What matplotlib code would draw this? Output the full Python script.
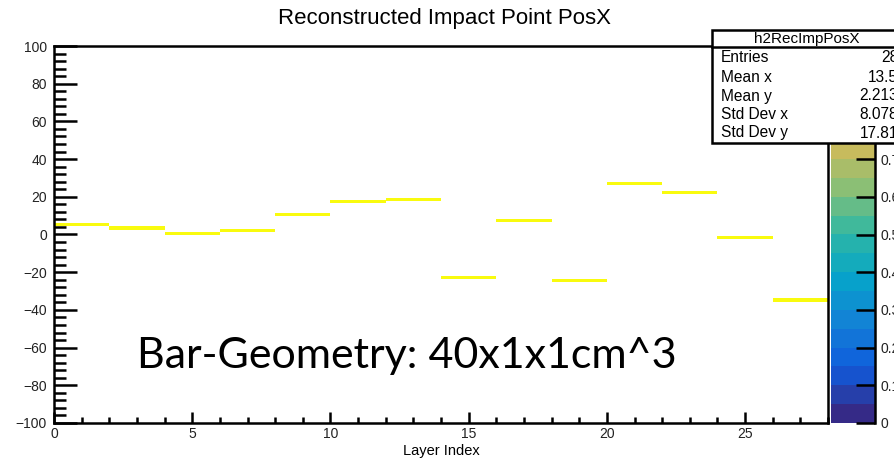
import matplotlib
matplotlib.use("Agg")
import matplotlib.pyplot as plt
import numpy as np
from matplotlib.colors import LinearSegmentedColormap, BoundaryNorm
from matplotlib.patches import Rectangle
from matplotlib.lines import Line2D
from matplotlib.cm import ScalarMappable

# ---------------- data ----------------
layer_bin_low = [0, 2, 4, 6, 8, 10, 12, 14, 16, 18, 20, 22, 24, 26]
layer_bin_width = 2
impact_pos_x = [5.2, 3.4, 0.5, 2.3, 10.5, 17.4, 18.5, -22.7, 7.4, -24.6, 27.1, 22.2, -1.8, -34.7]
cell_content = [1.0] * 14
pos_bin_height = 1.7

title = "Reconstructed Impact Point PosX"
xlabel = "Layer Index"
hist_name = "h2RecImpPosX"
stat_names = ["Entries", "Mean x", "Mean y", "Std Dev x", "Std Dev y"]
stat_values = ["28", "13.5", "2.213", "8.078", "17.81"]
xticks_major = [0, 5, 10, 15, 20, 25]
yticks_major = [-100, -80, -60, -40, -20, 0, 20, 40, 60, 80, 100]
cbar_ticks = [0, 0.1, 0.2, 0.3, 0.4, 0.5, 0.6, 0.7, 0.8, 0.9, 1.0]
cbar_ticklabels = ["0", "0.1", "0.2", "0.3", "0.4", "0.5", "0.6", "0.7", "0.8", "0.9", "1"]
overlay_text = "Bar-Geometry: 40x1x1cm^3"

# ROOT kBird palette
stops = [0.0, 0.125, 0.25, 0.375, 0.5, 0.625, 0.75, 0.875, 1.0]
red = [0.2082, 0.0592, 0.0780, 0.0232, 0.1802, 0.5301, 0.8186, 0.9956, 0.9764]
green = [0.1664, 0.3599, 0.5041, 0.6419, 0.7178, 0.7492, 0.7328, 0.7862, 0.9832]
blue = [0.5293, 0.8684, 0.8385, 0.7914, 0.6425, 0.4662, 0.3499, 0.1968, 0.0539]
cmap = LinearSegmentedColormap.from_list(
    "kBird", list(zip(stops, zip(red, green, blue))), N=256)
levels = np.linspace(0, 1, 21)
norm = BoundaryNorm(levels, cmap.N)

# ---------------- figure ----------------
W, H = 894, 459
fig = plt.figure(figsize=(W / 100, H / 100), dpi=100)
plt.rcParams["font.family"] = ["Liberation Sans", "DejaVu Sans"]

def fx(px):
    return px / W

def fy(py):
    return 1 - py / H

ax_l, ax_r, ax_t, ax_b = 54, 828, 46, 423
ax = fig.add_axes([fx(ax_l), fy(ax_b), fx(ax_r - ax_l), (ax_b - ax_t) / H])

lw = 1.8
ax.bar(layer_bin_low, [pos_bin_height] * len(impact_pos_x),
       bottom=np.array(impact_pos_x) - pos_bin_height / 2,
       width=layer_bin_width, align="edge",
       color=cmap(norm(cell_content)), linewidth=0)

ax.set_xlim(0, 28)
ax.set_ylim(-100, 100)
for s in ax.spines.values():
    s.set_linewidth(lw)
ax.set_xticks(xticks_major)
ax.set_xticks(np.arange(0, 29, 1), minor=True)
ax.set_yticks(yticks_major)
ax.set_yticks(np.arange(-100, 101, 4), minor=True)
ax.tick_params(axis="x", which="major", direction="in", length=8, width=lw,
               pad=3, labelsize=10, top=False, labelcolor="#222222")
ax.tick_params(axis="x", which="minor", direction="in", length=4, width=lw, top=False)
ax.tick_params(axis="y", which="major", direction="in", length=16.5, width=lw,
               pad=5, labelsize=10, right=False, labelcolor="#222222")
ax.tick_params(axis="y", which="minor", direction="in", length=8.3, width=lw, right=False)
ax.set_xlabel(xlabel, fontsize=10.5, labelpad=2)

# colorbar
cb_l, cb_r = 831, 875
cax = fig.add_axes([fx(cb_l), fy(ax_b), fx(cb_r - cb_l), (ax_b - ax_t) / H])
sm = ScalarMappable(norm=norm, cmap=cmap)
cb = fig.colorbar(sm, cax=cax, ticks=cbar_ticks)
cb.ax.set_yticklabels(cbar_ticklabels)
cb.outline.set_linewidth(0)
cax.tick_params(axis="y", which="both", direction="in", length=14, width=lw,
                pad=4, labelsize=10, right=True, left=False, labelcolor="#222222")
cax.tick_params(which="minor", length=0)
cax.add_line(Line2D([1, 1], [0, 1], transform=cax.transAxes, color="black",
                    lw=lw, clip_on=False))

# title
fig.text(fx(445), fy(24), title, ha="center", va="baseline", fontsize=16)

# overlay text
fig.text(fx(137), fy(368), overlay_text, ha="left", va="baseline",
         fontsize=31, family=["Lato", "DejaVu Sans"])

# stats box
bx_l, bx_r, bx_t, bx_b, bx_sep = 712, 902, 30, 143, 47
fig.add_artist(Rectangle((fx(bx_l), fy(bx_b)), fx(bx_r - bx_l), (bx_b - bx_t) / H,
                         transform=fig.transFigure, facecolor="white",
                         edgecolor="black", linewidth=lw, zorder=10))
fig.add_artist(Line2D([fx(bx_l), fx(bx_r)], [fy(bx_sep), fy(bx_sep)],
                      transform=fig.transFigure, color="black", lw=lw, zorder=11))
fig.text(fx(807), fy(39), hist_name, ha="center", va="center", fontsize=11, zorder=12)
row_y = [58, 77, 96, 115, 133]
for name, val, ry in zip(stat_names, stat_values, row_y):
    fig.text(fx(721), fy(ry), name, ha="left", va="center", fontsize=11.2, zorder=12)
    fig.text(fx(898), fy(ry), val, ha="right", va="center", fontsize=11.2, zorder=12)

fig.savefig("out.png", dpi=100)
